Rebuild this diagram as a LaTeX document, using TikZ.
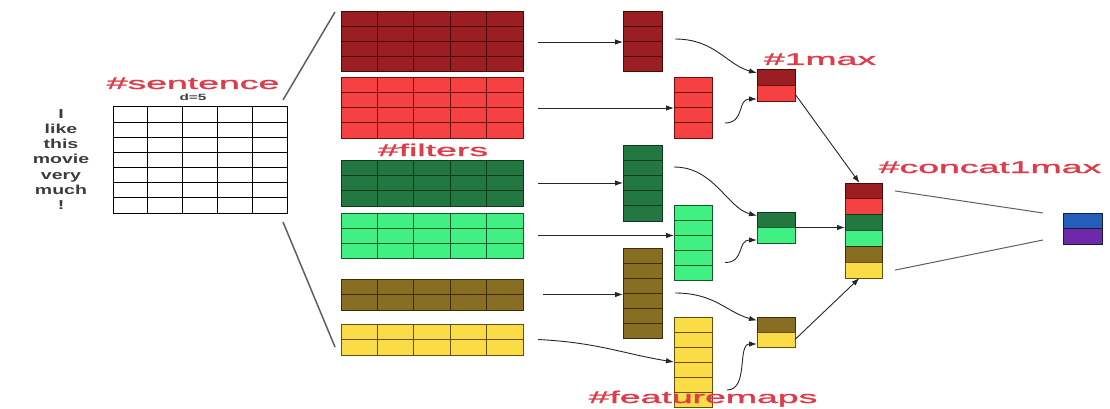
\documentclass[tikz,border=0pt]{standalone}
\usepackage{fontspec}
\setmainfont{Liberation Sans}
\newfontfamily\labfont[FakeBold=1.2]{Liberation Sans}
\usepackage{graphicx}
\usetikzlibrary{arrows.meta}
\definecolor{cDR}{RGB}{155,30,35}
\definecolor{cDRl}{RGB}{70,10,10}
\definecolor{cR}{RGB}{245,65,65}
\definecolor{cRl}{RGB}{110,15,15}
\definecolor{cDG}{RGB}{35,120,65}
\definecolor{cDGl}{RGB}{10,60,25}
\definecolor{cLG}{RGB}{65,240,130}
\definecolor{cLGl}{RGB}{20,90,40}
\definecolor{cOl}{RGB}{135,110,35}
\definecolor{cOll}{RGB}{60,45,10}
\definecolor{cY}{RGB}{250,220,70}
\definecolor{cYl}{RGB}{100,80,10}
\definecolor{cB}{RGB}{35,95,185}
\definecolor{cP}{RGB}{110,40,170}
\definecolor{cBl}{RGB}{25,25,70}
\definecolor{labred}{RGB}{222,60,75}
\definecolor{wordgray}{RGB}{60,60,60}
\definecolor{linegray}{RGB}{95,95,95}

\newcommand\hs[2]{\scalebox{#1}[1]{#2}}
\newcommand\gbox[9]{%
 \node[cellbox,fill=#8,draw=#9,minimum width={(#4-#2)*1pt},minimum height={(#5-#3)*1pt}] (#1) at ({(#2+#4)/2},{(#3+#5)/2}) {};%
 \pgfmathtruncatemacro\gnc{#6-1}\pgfmathtruncatemacro\gnr{#7-1}%
 \ifnum\gnc>0 \foreach \i in {1,...,\gnc}{\draw[gline,draw=#9] ({#2+(#4-#2)*\i/#6},#3) -- ({#2+(#4-#2)*\i/#6},#5);}\fi
 \ifnum\gnr>0 \foreach \j in {1,...,\gnr}{\draw[gline,draw=#9] (#2,{#3+(#5-#3)*\j/#7}) -- (#4,{#3+(#5-#3)*\j/#7});}\fi
}

\begin{document}
\begin{tikzpicture}[x=1pt,y=-1pt,
  cellbox/.style={draw,inner sep=0pt,outer sep=0pt,line width=1pt},
  gline/.style={line width=1pt},
  arr/.style={-{Latex[length=8pt,width=5.5pt]},line width=0.9pt,black!85},
  ln/.style={line width=1pt,linegray},
  sl/.style={line width=1.5pt,linegray},
  lab/.style={text=labred,font=\labfont\fontsize{17}{17}\selectfont,inner sep=0pt,anchor=base},
  dlab/.style={text=wordgray,font=\bfseries\fontsize{9}{9}\selectfont,inner sep=0pt,anchor=base},
  word/.style={text=wordgray,font=\bfseries\fontsize{13}{13}\selectfont,inner sep=0pt,anchor=base}]
\useasboundingbox (0,0) rectangle (1110,409);

% sentence words
\foreach \w [count=\i from 0] in {I,like,this,movie,very,much,!}
  \node[word] (w\i) at (61,{118+15.3*\i}) {\hs{1.5}{\w}};

% sentence matrix
\gbox{sent}{113}{107}{287}{213}{5}{7}{white}{black}

% filters
\gbox{f1}{341}{12}{523}{72}{5}{4}{cDR}{cDRl}
\gbox{f2}{341}{78}{523}{138}{5}{4}{cR}{cRl}
\gbox{f3}{341}{160}{523}{206}{5}{3}{cDG}{cDGl}
\gbox{f4}{341}{213}{523}{258}{5}{3}{cLG}{cLGl}
\gbox{f5}{341}{279}{523}{310}{5}{2}{cOl}{cOll}
\gbox{f6}{341}{324}{523}{355}{5}{2}{cY}{cYl}

% feature maps
\gbox{fm1}{623}{12}{662}{72}{1}{4}{cDR}{cDRl}
\gbox{fm2}{674}{78}{712}{138}{1}{4}{cR}{cRl}
\gbox{fm3}{623}{145}{662}{221}{1}{5}{cDG}{cDGl}
\gbox{fm4}{674}{205}{712}{280}{1}{5}{cLG}{cLGl}
\gbox{fm5}{623}{248}{662}{338}{1}{6}{cOl}{cOll}
\gbox{fm6}{674}{317}{712}{407}{1}{6}{cY}{cYl}

% 1-max
\gbox{m1a}{757}{70}{795}{86}{1}{1}{cDR}{cDRl}
\gbox{m1b}{757}{86}{795}{102}{1}{1}{cR}{cRl}
\gbox{m2a}{757}{212}{795}{227.5}{1}{1}{cDG}{cDGl}
\gbox{m2b}{757}{227.5}{795}{243}{1}{1}{cLG}{cLGl}
\gbox{m3a}{757}{317}{795}{332}{1}{1}{cOl}{cOll}
\gbox{m3b}{757}{332}{795}{347}{1}{1}{cY}{cYl}

% concat
\gbox{c1}{845}{183}{882}{198.83}{1}{1}{cDR}{cDRl}
\gbox{c2}{845}{198.83}{882}{214.67}{1}{1}{cR}{cRl}
\gbox{c3}{845}{214.67}{882}{230.5}{1}{1}{cDG}{cDGl}
\gbox{c4}{845}{230.5}{882}{246.33}{1}{1}{cLG}{cLGl}
\gbox{c5}{845}{246.33}{882}{262.17}{1}{1}{cOl}{cOll}
\gbox{c6}{845}{262.17}{882}{278}{1}{1}{cY}{cYl}

% output
\gbox{o1}{1063}{213}{1102}{228.5}{1}{1}{cB}{cBl}
\gbox{o2}{1063}{228.5}{1102}{244}{1}{1}{cP}{cBl}

% labels
\node[lab] (lsent) at (193,89) {\hs{2.2}{\#sentence}};
\node[dlab] (ld) at (193,101) {\hs{1.7}{d=5}};
\node[lab] (lfil) at (433,156) {\hs{2.2}{\#filters}};
\node[lab] (lmax) at (820,65) {\hs{2.2}{\#1max}};
\node[lab] (lcat) at (990,173) {\hs{2.2}{\#concat1max}};

% sentence to filters
\draw[sl] ([xshift=-4pt,yshift=7pt]sent.north east) -- ([xshift=-6pt]f1.north west);
\draw[sl] ([xshift=-4pt,yshift=-9pt]sent.south east) -- ([xshift=-6pt,yshift=8pt]f6.south west);

% filters to feature maps
\draw[arr] ([xshift=15pt]f1.east) -- (fm1.west);
\draw[arr] ([xshift=15pt]f2.east) -- (fm2.west);
\draw[arr] ([xshift=15pt]f3.east) -- (fm3.west);
\draw[arr] ([xshift=15pt]f4.east) -- (f4.east -| fm4.west);
\draw[arr] ([xshift=20pt]f5.east) -- (f5.east -| fm5.west);
\draw[arr] ([xshift=15pt]f6.east) .. controls +(60,3) and +(-50,-8) .. (fm6.west);

% feature maps to 1-max
\draw[arr] ([xshift=13pt,yshift=3pt]fm1.east) .. controls +(40,0) and +(-30,-8) .. ([yshift=5pt]m1a.west);
\draw[arr] ([xshift=13pt,yshift=-15pt]fm2.east) .. controls +(20,0) and +(-20,0) .. ([yshift=3pt]m1b.south west);
\draw[arr] ([xshift=12pt,yshift=16pt]fm3.east) .. controls +(40,0) and +(-30,-8) .. ([yshift=4pt]m2a.west);
\draw[arr] ([xshift=13pt,yshift=-20pt]fm4.east) .. controls +(20,0) and +(-20,0) .. ([yshift=3pt]m2b.south west);
\draw[arr] ([xshift=13pt]fm5.east) .. controls +(40,0) and +(-30,-8) .. ([yshift=4pt]m3a.west);
\draw[arr] ([xshift=15pt,yshift=-28pt]fm6.east) .. controls +(22,0) and +(-20,0) .. ([yshift=3pt]m3b.south west);

% 1-max to concat
\draw[arr] (m1b.east) -- ([xshift=-4pt]c1.north);
\draw[arr] (m2a.south east) -- (m2a.south east -| c3.west);
\draw[arr] (m3b.east) -- ([xshift=-4pt]c6.south);

% concat to output
\draw[ln] ([xshift=13pt]c1.east) -- ([xshift=-20pt]o1.north west);
\draw[ln] ([xshift=13pt]c6.east) -- ([xshift=-20pt,yshift=4pt]o2.south west);

\node[lab] (lfm) at (703,403) {\hs{2.2}{\#featuremaps}};
\end{tikzpicture}
\end{document}
